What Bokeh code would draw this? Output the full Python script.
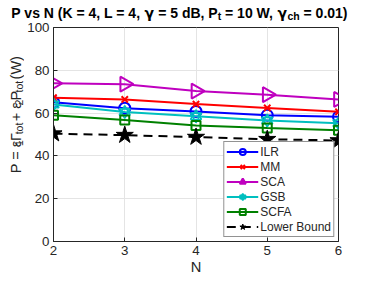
import math
from bokeh.plotting import figure
from bokeh.layouts import column, row
from bokeh.models import Label, Range1d, Legend, LegendItem, FixedTicker
from bokeh.embed import file_html
from bokeh.resources import INLINE

# ---------------- data ----------------
N_VALUES = [2, 3, 4, 5, 6]
ILR = [65.1, 62.3, 60.8, 59.0, 58.3]
MM = [67.2, 66.4, 64.2, 62.4, 60.6]
SCA = [73.9, 73.5, 70.3, 68.6, 66.4]
GSB = [64.0, 60.5, 58.5, 56.5, 55.3]
SCFA = [59.0, 56.8, 54.2, 53.0, 52.0]
LOWER = [50.4, 49.7, 48.8, 47.8, 47.2]
X_TICKS = [2, 3, 4, 5, 6]
Y_TICKS = [0, 20, 40, 60, 80, 100]

FONT = "Liberation Sans"
GREEK = "DejaVu Sans"
AX = "#262626"
TOTAL_W, TOTAL_H = 350, 278
TITLE_H = 21          # strip holding the title
YLAB_W = 24           # strip holding the y-axis label
MW, MH = TOTAL_W - YLAB_W, TOTAL_H - TITLE_H
# frame edges inside the main figure
FL, FR, FT, FB = 29, 314, 6, 220


def strip(w, h):
    f = figure(width=w, height=h, x_range=Range1d(0, w), y_range=Range1d(h, 0),
               x_axis_location=None, y_axis_location=None, title=None,
               toolbar_location=None, output_backend="svg",
               min_border=0, min_border_left=0, min_border_right=0,
               min_border_top=0, min_border_bottom=0)
    f.outline_line_color = None
    f.xgrid.visible = False
    f.ygrid.visible = False
    f.background_fill_color = "white"
    f.border_fill_color = "white"
    return f


p = figure(width=MW, height=MH, x_range=Range1d(2, 6), y_range=Range1d(0, 100),
           output_backend="svg", toolbar_location=None, title=None,
           min_border_left=FL, min_border_right=MW - FR,
           min_border_top=FT, min_border_bottom=MH - FB)
p.background_fill_color = "white"
p.border_fill_color = "white"
p.outline_line_color = AX
p.outline_line_width = 1

p.xaxis.ticker = FixedTicker(ticks=X_TICKS)
p.yaxis.ticker = FixedTicker(ticks=Y_TICKS)
p.xgrid.ticker = FixedTicker(ticks=X_TICKS)
p.ygrid.ticker = FixedTicker(ticks=Y_TICKS)
for ax in (p.xaxis[0], p.yaxis[0]):
    ax.axis_line_color = AX
    ax.major_tick_line_color = AX
    ax.major_tick_in = 4
    ax.major_tick_out = 0
    ax.minor_tick_line_color = None
    ax.major_label_text_font = FONT
    ax.major_label_text_font_size = "13.3px"
    ax.major_label_text_color = AX
p.xaxis.major_label_standoff = 4
p.yaxis.major_label_standoff = 4
p.xaxis.axis_label = "N"
p.xaxis.axis_label_text_font = FONT
p.xaxis.axis_label_text_font_size = "14.7px"
p.xaxis.axis_label_text_font_style = "normal"
p.xaxis.axis_label_text_color = AX
p.xaxis.axis_label_standoff = 1
for g in (p.xgrid[0], p.ygrid[0]):
    g.grid_line_color = "#e4e4e4"
    g.grid_line_width = 1

BLUE, RED, MAG, CYAN, GREEN, BLACK = "#0000ff", "#ff0000", "#bf00bf", "#00bfbf", "#008000", "#000000"

items = []
r1 = p.line(N_VALUES, ILR, line_color=BLUE, line_width=2)
m1 = p.scatter(N_VALUES, ILR, marker="circle", size=11, line_color=BLUE, fill_color=None, line_width=2)
items.append(LegendItem(label="ILR", renderers=[r1, m1]))

r2 = p.line(N_VALUES, MM, line_color=RED, line_width=2)
m2 = p.scatter(N_VALUES, MM, marker="x", size=9, line_color=RED, line_width=2)
items.append(LegendItem(label="MM", renderers=[r2, m2]))

r3 = p.line(N_VALUES, SCA, line_color=MAG, line_width=2)
m3 = p.scatter(N_VALUES, SCA, marker="triangle", angle=-math.pi / 2, size=15, line_color=MAG,
               fill_color=None, line_width=2)
items.append(LegendItem(label="SCA", renderers=[r3, m3]))

r4 = p.line(N_VALUES, GSB, line_color=CYAN, line_width=2)
m4a = p.scatter(N_VALUES, GSB, marker="triangle", size=11, line_color=CYAN, fill_color=None, line_width=1.6)
m4b = p.scatter(N_VALUES, GSB, marker="inverted_triangle", size=11, line_color=CYAN, fill_color=None, line_width=1.6)
items.append(LegendItem(label="GSB", renderers=[r4, m4a, m4b]))

r5 = p.line(N_VALUES, SCFA, line_color=GREEN, line_width=2)
m5 = p.scatter(N_VALUES, SCFA, marker="square", size=9, line_color=GREEN, fill_color=None, line_width=2)
items.append(LegendItem(label="SCFA", renderers=[r5, m5]))

r6 = p.line(N_VALUES, LOWER, line_color=BLACK, line_width=2, line_dash="9 6")
m6 = p.scatter(N_VALUES, LOWER, marker="star", size=18, line_color=BLACK, fill_color=BLACK, line_width=1)
items.append(LegendItem(label="Lower Bound", renderers=[r6, m6]))

legend = Legend(items=items, location="bottom_right")
legend.label_text_font = FONT
legend.label_text_font_size = "12px"
legend.label_text_color = AX
legend.glyph_width = 32
legend.glyph_height = 15
legend.label_height = 15
legend.spacing = 0
legend.padding = 2
legend.margin = 4
legend.label_standoff = 2
legend.border_line_color = AX
legend.border_line_width = 1
legend.background_fill_color = "white"
legend.background_fill_alpha = 1
p.add_layout(legend)

# ------------- texts with subscripts -------------
W_REG = {' ': 278, 'P': 667, '=': 584, 'ε': 450, 'Γ': 556, 't': 278, 'o': 556, '+': 584,
         '1': 556, '2': 556, '(': 333, ')': 333, 'W': 944, 'N': 722}
W_BOLD = {'P': 667, 'v': 556, 's': 556, 'N': 722, ' ': 278, '(': 333, 'K': 722, '=': 584,
          '4': 556, ',': 278, 'L': 611, 'γ': 700, '5': 556, 'd': 611, 'B': 722, 't': 333,
          '1': 556, '0': 556, 'W': 944, 'c': 556, 'h': 611, '.': 278, ')': 333}


def tw(s, size, bold):
    tbl = W_BOLD if bold else W_REG
    return sum(tbl.get(c, 556) for c in s) * size / 1000.0


def runs(parts, main, sub, bold, shift):
    """Lay runs out one after another; leading spaces advance the pen
    (SVG would collapse them), the drawn text is stripped."""
    out, pos = [], 0.0
    for text, is_sub in parts:
        sz = sub if is_sub else main
        lead = len(text) - len(text.lstrip(" "))
        shown = text.strip(" ")
        out.append((shown, pos + tw(" " * lead, sz, bold), sz, shift if is_sub else 0.0))
        pos += tw(text, sz, bold)
    return out, pos


# title strip (coordinates are pixels, y downwards)
tfig = strip(TOTAL_W, TITLE_H)
TITLE_PARTS = [("P vs N (K = 4, L = 4, ", False), ("γ", False), (" = 5 dB, P", False), ("t", True),
               (" = 10 W, ", False), ("γ", False), ("ch", True), (" = 0.01)", False)]
t_runs, t_w = runs(TITLE_PARTS, 14, 10.5, True, 3.5)
frame_center = YLAB_W + (FL + FR) / 2
t_left = max(2, min(frame_center - t_w / 2, TOTAL_W - 3 - t_w))
for text, off, sz, sh in t_runs:
    tfig.add_layout(Label(x=t_left + off, y=12 + sh, text=text,
                          text_font=GREEK if text == "γ" else FONT,
                          text_font_size=f"{sz}px", text_font_style="bold",
                          text_color="#000000", text_align="left", text_baseline="alphabetic"))

# y-label strip
yfig = strip(YLAB_W, MH)
YLAB_PARTS = [("P = ε", False), ("1", True), ("Γ", False), ("tot", True), (" + ε", False),
              ("2", True), ("P", False), ("tot", True), (" (W)", False)]
y_runs, y_w = runs(YLAB_PARTS, 14.5, 10.5, False, 3.5)
y_center = (FT + FB) / 2 - 6
y_start = y_center + y_w / 2
for text, off, sz, sh in y_runs:
    yfig.add_layout(Label(x=15 + sh, y=y_start - off, angle=math.pi / 2, text=text,
                          text_font=FONT, text_font_size=f"{sz}px", text_color=AX,
                          text_align="left", text_baseline="alphabetic"))

layout = column(tfig, row(yfig, p, spacing=0), spacing=0)
open("out.html", "w").write(file_html(layout, INLINE))
